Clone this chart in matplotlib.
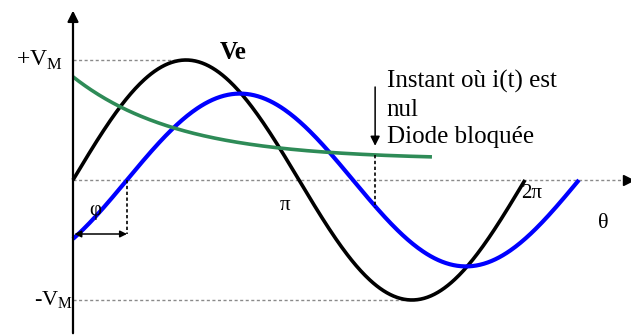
import matplotlib.pyplot as plt
import numpy as np

# curve parameters (units: V_M, radians)
ve_amp = 1.0
i_amp = 0.72
phi = 0.75
green_start = 0.69
green_floor = 0.17
green_tau = 1.46
green_end = 4.99
t_block = 4.20

tick_labels = ["+V$_\\mathregular{M}$", "-V$_\\mathregular{M}$", "\u03c0", "2\u03c0", "\u03b8", "\u03c6"]
note = "Instant o\u00f9 i(t) est\nnul\nDiode bloqu\u00e9e"

plt.rcParams['font.family'] = ['Liberation Serif', 'DejaVu Serif']

fig = plt.figure(figsize=(6.31, 3.36), dpi=100)
ax = fig.add_axes([0, 0, 1, 1])
ax.set_xlim(-1.0148, 7.757)
ax.set_ylim(-1.3, 1.5)
ax.axis('off')

dot = dict(color='#8a8a8a', lw=1.0, ls=(0, (2.2, 1.8)))

# reference lines
ax.plot([0, np.pi / 2], [ve_amp, ve_amp], **dot)
ax.plot([0, 1.5 * np.pi], [-ve_amp, -ve_amp], **dot)
ax.plot([0, 7.70], [0, 0], **dot)
ax.plot([7.72], [0], marker='>', color='k', markersize=7)

# vertical axis with arrow
ax.annotate('', xy=(0, 1.435), xytext=(0, -1.3),
            arrowprops=dict(arrowstyle='-|>', color='k', lw=1.6, mutation_scale=16))

# curves
th = np.linspace(0, 2 * np.pi, 400)
ax.plot(th, ve_amp * np.sin(th), color='black', lw=2.6, solid_capstyle='butt')

th_i = np.linspace(0, 2 * np.pi + phi, 400)
ax.plot(th_i, i_amp * np.sin(th_i - phi), color='#0000ff', lw=3.0, solid_capstyle='butt')

th_g = np.linspace(0, green_end, 300)
ax.plot(th_g, green_floor + green_start * np.exp(-th_g / green_tau),
        color='#2e8b57', lw=2.6, solid_capstyle='butt')

# phase shift marker
ax.plot([phi, phi], [0, -0.45], color='k', lw=1.2, ls=(0, (2, 1.5)))
ax.annotate('', xy=(0.02, -0.45), xytext=(phi, -0.45),
            arrowprops=dict(arrowstyle='<|-|>', color='k', lw=1.1, mutation_scale=10,
                            shrinkA=0, shrinkB=0))

# blocking instant
ax.plot([t_block, t_block], [0.21, -0.23], color='k', lw=1.2, ls=(0, (2, 1.5)))
ax.annotate('', xy=(t_block, 0.285), xytext=(t_block, 0.775),
            arrowprops=dict(arrowstyle='-|>', color='k', lw=1.1, mutation_scale=14,
                            shrinkA=0, shrinkB=0))

ax.text(-0.14, 1.0, tick_labels[0], fontsize=17, ha='right', va='center')
ax.text(0.0, -1.0, tick_labels[1], fontsize=16, ha='right', va='center')
ax.text(2.95, -0.21, tick_labels[2], fontsize=15, ha='center', va='center')
ax.text(6.38, -0.11, tick_labels[3], fontsize=15, ha='center', va='center')
ax.text(7.37, -0.36, tick_labels[4], fontsize=16, ha='center', va='center')
ax.text(0.31, -0.25, tick_labels[5], fontsize=15, ha='center', va='center')
ax.text(2.04, 1.06, "Ve", fontsize=18, fontweight='bold', ha='left', va='center')
ax.text(4.36, 0.915, note, fontsize=18, ha='left', va='top', linespacing=1.32)

fig.savefig('out.png', dpi=100)
